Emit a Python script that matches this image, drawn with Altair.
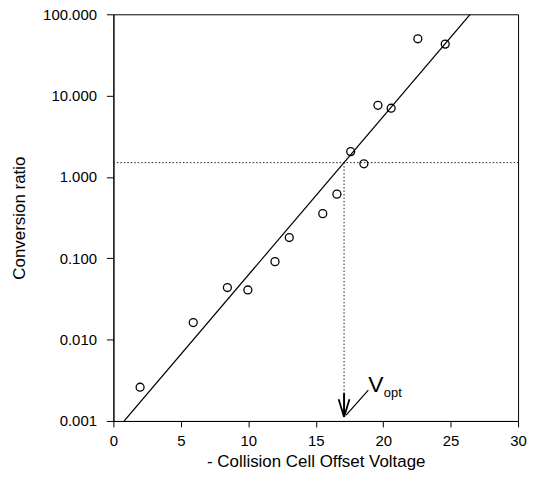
import altair as alt
import pandas as pd

# measured points: - collision cell offset voltage vs conversion ratio
voltage = [1.98, 5.92, 8.45, 9.97, 11.98, 13.04, 15.52, 16.57, 17.59, 18.57, 19.61, 20.59, 22.57, 24.6]
ratio = [0.0026, 0.0162, 0.0437, 0.0408, 0.091, 0.18, 0.354, 0.615, 2.05, 1.45, 7.6, 7.0, 50.0, 43.0]

# fitted line end points
fit_x = [0.8, 26.45]
fit_y = [0.001, 100.0]

# optimum marker
v_opt = 17.1
ratio_opt = 1.5
shaft_top = 0.0022
arrow_tip = 0.00112
head_base = 0.00185
head_left = 16.7
head_right = 17.5
leader_x = [17.25, 18.9]
leader_y = [0.00118, 0.0024]
v_label_pos = (19.45, 0.00275)
opt_label_pos = (20.05, 0.0022)

x_ticks = [0, 5, 10, 15, 20, 25, 30]
y_ticks = [0.001, 0.01, 0.1, 1, 10, 100]

FONT = "Liberation Sans"
W, H = 407, 409

xs = alt.Scale(domain=[0, 30], nice=False, zero=False)
ys = alt.Scale(type="log", domain=[0.001, 100], nice=False)

xaxis = alt.Axis(
    title="- Collision Cell Offset Voltage", values=x_ticks, format="d", grid=False,
    tickSize=6, labelPadding=7, labelFontSize=15, titleFontSize=17,
    titleY=46, titleBaseline="alphabetic", labelFlush=False,
)
yaxis = alt.Axis(
    title="Conversion ratio", values=y_ticks, format=".3f", grid=False,
    tickSize=7, labelPadding=10, labelFontSize=15, titleFontSize=17,
    titleAngle=270, titleX=-94, titleY=H / 2, titleAlign="center",
    titleBaseline="middle", labelFlush=False,
)

X = alt.X("x:Q", scale=xs, axis=xaxis)
Y = alt.Y("y:Q", scale=ys, axis=yaxis)

pts = pd.DataFrame({"x": voltage, "y": ratio})
fit = pd.DataFrame({"x": fit_x, "y": fit_y})
hline = pd.DataFrame({"x": [0], "x2": [30], "y": [ratio_opt]})
vline = pd.DataFrame({"x": [v_opt], "y": [ratio_opt], "y2": [shaft_top]})
shaft = pd.DataFrame({"x": [v_opt], "y": [shaft_top], "y2": [arrow_tip]})
head = pd.DataFrame({"x": [head_left, head_right], "y": [head_base, head_base],
                     "x2": [v_opt, v_opt], "y2": [arrow_tip, arrow_tip]})
leader = pd.DataFrame({"x": [leader_x[0]], "y": [leader_y[0]], "x2": [leader_x[1]], "y2": [leader_y[1]]})
vlab = pd.DataFrame({"x": [v_label_pos[0]], "y": [v_label_pos[1]], "t": ["V"]})
olab = pd.DataFrame({"x": [opt_label_pos[0]], "y": [opt_label_pos[1]], "t": ["opt"]})

dotted = dict(color="#222", strokeDash=[1.5, 2], strokeWidth=1)

layers = [
    alt.Chart(hline).mark_rule(**dotted).encode(x=X, x2="x2:Q", y=Y),
    alt.Chart(vline).mark_rule(**dotted).encode(x=X, y=Y, y2="y2:Q"),
    alt.Chart(fit).mark_line(color="black", strokeWidth=1.2, clip=True).encode(x=X, y=Y),
    alt.Chart(pts).mark_point(shape="circle", filled=False, color="black", size=64,
                              strokeWidth=1.3, opacity=1).encode(x=X, y=Y),
    alt.Chart(shaft).mark_rule(color="black", strokeWidth=2).encode(x=X, y=Y, y2="y2:Q"),
    alt.Chart(head).mark_rule(color="black", strokeWidth=1.8).encode(x=X, y=Y, x2="x2:Q", y2="y2:Q"),
    alt.Chart(leader).mark_rule(color="black", strokeWidth=1.2).encode(x=X, y=Y, x2="x2:Q", y2="y2:Q"),
    alt.Chart(vlab).mark_text(font=FONT, fontSize=23, align="center", baseline="middle",
                              color="black").encode(x=X, y=Y, text="t:N"),
    alt.Chart(olab).mark_text(font=FONT, fontSize=13, align="left", baseline="middle",
                              color="black").encode(x=X, y=Y, text="t:N"),
]

chart = (
    alt.layer(*layers)
    .properties(width=W, height=H, autosize=alt.AutoSizeParams(type="none"),
                padding={"left": 106, "top": 5, "right": 12, "bottom": 50},
                background="white")
    .configure_view(stroke="black", strokeWidth=1)
    .configure_axis(labelFont=FONT, titleFont=FONT, labelColor="black", titleColor="black",
                    titleFontWeight="normal", domainColor="black", tickColor="black",
                    domainWidth=1, tickWidth=1)
)

chart.save("out.html", embed_options={"renderer": "svg", "actions": False})
